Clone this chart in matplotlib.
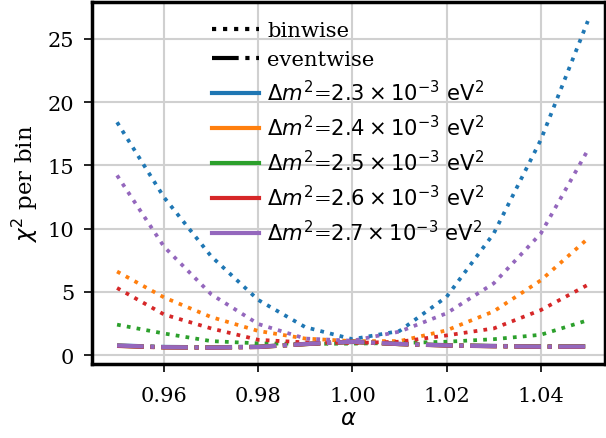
"""
chi^2 per bin vs alpha, binwise (dotted) vs eventwise (dash-dot).
"""

import numpy as np
import matplotlib
matplotlib.use('Agg')
import matplotlib.pyplot as plt
from matplotlib.lines import Line2D

matplotlib.rcParams['font.family'] = 'DejaVu Serif'
matplotlib.rcParams['mathtext.fontset'] = 'dejavusans'
matplotlib.rcParams['font.size'] = 16.5

alpha = [0.95, 0.96, 0.97, 0.98, 0.99, 1.00, 1.01, 1.02, 1.03, 1.04, 1.05]

dm2_labels = ['2.3', '2.4', '2.5', '2.6', '2.7']
colors = ['#1f77b4', '#ff7f0e', '#2ca02c', '#d62728', '#9467bd']

# binwise chi2 per bin
binwise_23 = [18.4, 12.45, 7.8, 4.35, 2.2, 1.25, 1.9, 4.6, 9.6, 17.0, 26.4]
binwise_24 = [6.6, 4.55, 3.0, 1.9, 1.3, 1.1, 1.1, 1.95, 3.45, 5.9, 9.2]
binwise_25 = [2.4, 1.7, 1.1, 0.92, 0.88, 0.9, 0.95, 1.05, 1.25, 1.6, 2.75]
binwise_26 = [5.3, 3.2, 2.1, 1.2, 1.0, 0.95, 1.05, 1.55, 2.1, 3.55, 5.55]
binwise_27 = [14.2, 8.55, 4.8, 2.45, 1.3, 1.13, 1.85, 3.3, 5.66, 9.6, 16.2]

# eventwise chi2 per bin
eventwise_23 = [0.76, 0.64, 0.61, 0.66, 0.88, 1.03, 0.88, 0.78, 0.72, 0.68, 0.70]
eventwise_24 = [0.74, 0.62, 0.60, 0.65, 0.87, 1.04, 0.87, 0.77, 0.71, 0.67, 0.69]
eventwise_25 = [0.73, 0.61, 0.59, 0.64, 0.86, 1.05, 0.86, 0.76, 0.70, 0.66, 0.68]
eventwise_26 = [0.72, 0.60, 0.58, 0.63, 0.86, 1.05, 0.86, 0.75, 0.69, 0.65, 0.66]
eventwise_27 = [0.75, 0.62, 0.59, 0.64, 0.87, 1.05, 0.87, 0.76, 0.70, 0.66, 0.67]

binwise = [binwise_23, binwise_24, binwise_25, binwise_26, binwise_27]
eventwise = [eventwise_23, eventwise_24, eventwise_25, eventwise_26, eventwise_27]

fig = plt.figure(figsize=(6.06, 4.39), dpi=100)
ax = fig.add_axes([0.152, 0.168, 0.846, 0.825])

for b, e, c in zip(binwise, eventwise, colors):
    ax.plot(alpha, b, color=c, linestyle=':', linewidth=2.7)
    ax.plot(alpha, e, color=c, linestyle='-.', linewidth=3.0)

ax.set_xlim(0.9447, 1.0536)
ax.set_ylim(-0.73, 27.9)
ax.set_xticks([0.96, 0.98, 1.00, 1.02, 1.04])
ax.set_yticks([0, 5, 10, 15, 20, 25])
ax.grid(True, color='#d0d0d0', linewidth=1.5)
ax.set_axisbelow(True)
for s in ax.spines.values():
    s.set_linewidth(2.5)
ax.tick_params(width=1.2, length=6, pad=7, labelsize=15)
ax.tick_params(axis='x', pad=10)

ax.set_xlabel(r'$\alpha$', labelpad=1)
ax.set_ylabel(r'$\chi^2$ per bin', labelpad=5)

handles = [
    Line2D([], [], color='black', linestyle=':', linewidth=3.0, label='binwise'),
    Line2D([], [], color='black', linestyle='-.', linewidth=3.0, label='eventwise'),
]
for lab, c in zip(dm2_labels, colors):
    handles.append(Line2D([], [], color=c, linewidth=3.0,
                          label=r'$\Delta m^2$=$' + lab + r'\times10^{-3}\ \mathrm{eV}^2$'))
ax.legend(handles=handles, loc='upper center', frameon=False, fontsize=15.2,
          handlelength=2.2, handletextpad=0.4, labelspacing=0.47, borderaxespad=0.5)

plt.savefig('out.png', dpi=100)
